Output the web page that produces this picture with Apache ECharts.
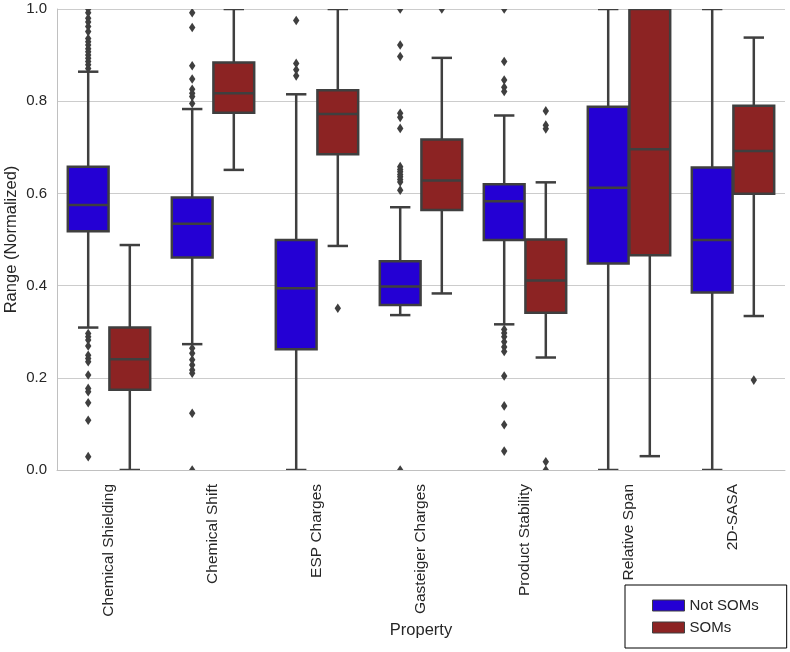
<!DOCTYPE html>
<html><head><meta charset="utf-8">
<script src="https://cdn.jsdelivr.net/npm/echarts@6/dist/echarts.min.js"></script>
<style>html,body{margin:0;padding:0;background:#fff}#c{width:790px;height:652px}</style>
</head><body><div id="c"></div>
<script>
const categories = ['Chemical Shielding','Chemical Shift','ESP Charges','Gasteiger Charges','Product Stability','Relative Span','2D-SASA'];
const seriesNames = ['Not SOMs','SOMs'];
const yTicks = [0, 0.2, 0.4, 0.6, 0.8, 1.0];
// each row: [lower whisker, Q1, median, Q3, upper whisker]
const notSomsBoxes = [
  [0.309, 0.518, 0.575, 0.658, 0.864],
  [0.273, 0.461, 0.534, 0.591, 0.783],
  [0.000, 0.262, 0.394, 0.499, 0.815],
  [0.336, 0.358, 0.398, 0.453, 0.570],
  [0.316, 0.499, 0.583, 0.620, 0.769],
  [0.000, 0.448, 0.612, 0.788, 1.000],
  [0.000, 0.385, 0.499, 0.656, 1.000]
];
const somsBoxes = [
  [0.000, 0.174, 0.240, 0.309, 0.488],
  [0.651, 0.775, 0.817, 0.884, 1.000],
  [0.486, 0.685, 0.772, 0.824, 1.000],
  [0.383, 0.564, 0.628, 0.717, 0.894],
  [0.244, 0.341, 0.411, 0.500, 0.624],
  [0.030, 0.466, 0.696, 1.000, 1.000],
  [0.334, 0.599, 0.692, 0.790, 0.938]
];
const notSomsOutliers = [
  [1.0, 0.992, 0.98, 0.972, 0.962, 0.951, 0.936, 0.929, 0.922, 0.914, 0.907, 0.9, 0.893, 0.886, 0.879, 0.871,
   0.296, 0.289, 0.282, 0.269, 0.249, 0.242, 0.235, 0.206, 0.177, 0.170, 0.146, 0.108, 0.029],
  [0.992, 0.960, 0.877, 0.848, 0.826, 0.817, 0.810, 0.795,
   0.264, 0.253, 0.239, 0.228, 0.217, 0.210, 0.123, 0.0],
  [0.975, 0.882, 0.868, 0.855],
  [1.0, 0.922, 0.897, 0.774, 0.765, 0.741, 0.658, 0.652, 0.647, 0.641, 0.636, 0.630, 0.625, 0.607, 0.0],
  [1.0, 0.886, 0.846, 0.830, 0.821,
   0.305, 0.297, 0.289, 0.278, 0.267, 0.257, 0.204, 0.139, 0.098, 0.041],
  [],
  []
];
const somsOutliers = [
  [],
  [],
  [0.351],
  [1.0],
  [0.779, 0.748, 0.740, 0.018, 0.0],
  [],
  [0.195]
];

const colors = ['#2400d4', '#8c2323'];
const lineColor = '#3f3f3f';
const textColor = '#262626';
const FONT = '"Liberation Sans", Arial, sans-serif';

function boxData(boxes){ return boxes.map((b,i)=>[i].concat(b)); }
function outlierData(outs){ const r=[]; outs.forEach((arr,i)=>arr.forEach(v=>r.push([i,v]))); return r; }

function boxRender(side, fill){
  return function(params, api){
    const idx = api.value(0);
    const bw = api.size([1,0])[0];
    const slot = bw*0.4;
    const w = slot*0.98;
    const cx = api.coord([idx,0])[0] + side*slot/2;
    const y = k => api.coord([idx, api.value(k)])[1];
    const yMin=y(1), yQ1=y(2), yMed=y(3), yQ3=y(4), yMax=y(5);
    const lw = 2.5;
    const st = {stroke: lineColor, lineWidth: lw};
    const cap = w/4;
    return {type:'group', children:[
      {type:'line', shape:{x1:cx,y1:yQ3,x2:cx,y2:yMax}, style:st},
      {type:'line', shape:{x1:cx,y1:yQ1,x2:cx,y2:yMin}, style:st},
      {type:'line', shape:{x1:cx-cap,y1:yMax,x2:cx+cap,y2:yMax}, style:st},
      {type:'line', shape:{x1:cx-cap,y1:yMin,x2:cx+cap,y2:yMin}, style:st},
      {type:'rect', shape:{x:cx-w/2,y:yQ3,width:w,height:yQ1-yQ3}, style:{fill:fill, stroke:lineColor, lineWidth:lw}},
      {type:'line', shape:{x1:cx-w/2,y1:yMed,x2:cx+w/2,y2:yMed}, style:st}
    ]};
  };
}
function outRender(side){
  return function(params, api){
    const idx = api.value(0);
    const bw = api.size([1,0])[0];
    const slot = bw*0.4;
    const p = api.coord([idx, api.value(1)]);
    const cx = p[0] + side*slot/2, cy = p[1];
    const hw=3.2, hh=4.8;
    return {type:'polygon', shape:{points:[[cx,cy-hh],[cx+hw,cy],[cx,cy+hh],[cx-hw,cy]]}, style:{fill:lineColor}};
  };
}

const chart = echarts.init(document.getElementById('c'), null, {renderer:'canvas'});
chart.setOption({
  animation:false,
  backgroundColor:'#fff',
  textStyle:{fontFamily:FONT},
  grid:{left:57, right:5, top:9, bottom:182, containLabel:false, outerBoundsMode:'none'},
  legend:{
    orient:'vertical', left:625, top:585,
    padding:[13,28,13,27], itemGap:7, itemWidth:32, itemHeight:11,
    borderColor:'#000', borderWidth:1, backgroundColor:'#fff',
    icon:'rect',
    itemStyle:{borderColor:lineColor, borderWidth:1},
    textStyle:{fontSize:15, color:textColor, fontFamily:FONT},
    data: seriesNames
  },
  xAxis:{
    type:'category', data:categories,
    name:'Property', nameLocation:'middle', nameGap:152, nameMoveOverlap:false,
    nameTextStyle:{fontSize:16.5, color:textColor, fontFamily:FONT},
    axisLine:{show:true, lineStyle:{color:'#c0c0c0', width:1}},
    axisTick:{show:false},
    axisLabel:{rotate:90, fontSize:15.5, color:textColor, margin:14, fontFamily:FONT},
    splitLine:{show:false}
  },
  yAxis:{
    type:'value', min:yTicks[0], max:yTicks[yTicks.length-1], interval:0.2,
    name:'Range (Normalized)', nameLocation:'middle', nameGap:37, nameMoveOverlap:false,
    nameTextStyle:{fontSize:16.5, color:textColor, fontFamily:FONT},
    axisLine:{show:true, lineStyle:{color:'#c0c0c0', width:1}},
    axisTick:{show:false},
    axisLabel:{fontSize:15, color:textColor, margin:10, formatter:v=>v.toFixed(1), fontFamily:FONT},
    splitLine:{show:true, lineStyle:{color:'#cccccc', width:1}}
  },
  series:[
    {name:seriesNames[0], type:'custom', renderItem:boxRender(-1, colors[0]), data:boxData(notSomsBoxes),
     encode:{x:0, y:[1,2,3,4,5]}, itemStyle:{color:colors[0]}, clip:true, z:2},
    {name:seriesNames[1], type:'custom', renderItem:boxRender(1, colors[1]), data:boxData(somsBoxes),
     encode:{x:0, y:[1,2,3,4,5]}, itemStyle:{color:colors[1]}, clip:true, z:2},
    {name:seriesNames[0], type:'custom', renderItem:outRender(-1), data:outlierData(notSomsOutliers),
     encode:{x:0, y:1}, itemStyle:{color:colors[0]}, clip:true, z:3},
    {name:seriesNames[1], type:'custom', renderItem:outRender(1), data:outlierData(somsOutliers),
     encode:{x:0, y:1}, itemStyle:{color:colors[1]}, clip:true, z:3}
  ]
});
</script></body></html>
